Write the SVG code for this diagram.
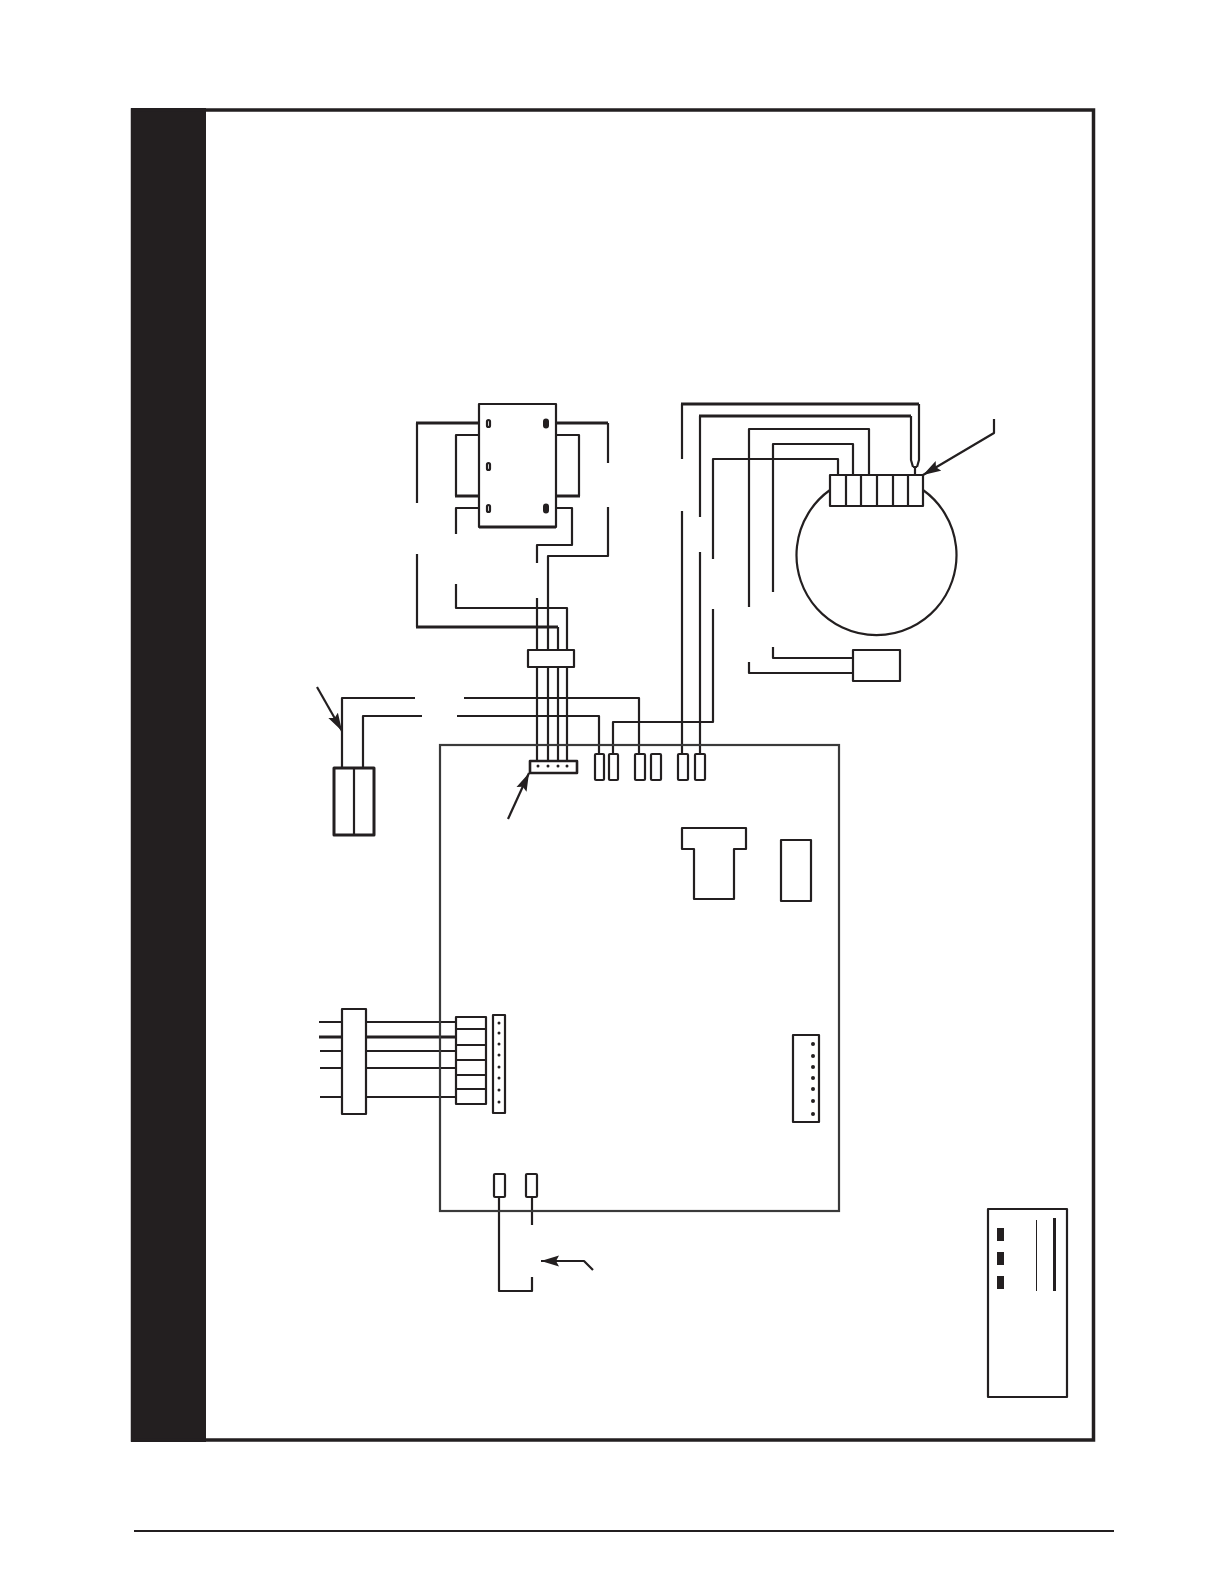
<svg xmlns="http://www.w3.org/2000/svg" width="1224" height="1584" viewBox="0 0 1224 1584">
<style>
.w{fill:none;stroke:#231f20;stroke-width:2.2;stroke-linejoin:round}
.t{fill:none;stroke:#231f20;stroke-width:3;stroke-linejoin:round}
.b{fill:#fff;stroke:#231f20;stroke-width:2.2;stroke-linejoin:round}
.k{fill:#231f20}
</style>
<defs>
<marker id="ah" markerUnits="userSpaceOnUse" markerWidth="20" markerHeight="12" refX="18" refY="6" orient="auto"><path d="M0,0.500 L18,6 L0,11.500 L3,6 Z" fill="#231f20"/></marker>
</defs>
<rect width="1224" height="1584" fill="#fff"/>
<g id="frame">
<rect x="131" y="108" width="75" height="1334" class="k"/>
<rect x="132.500" y="110" width="961" height="1330" fill="none" stroke="#231f20" stroke-width="3.500"/>
<path d="M134 1531H1114" fill="none" stroke="#231f20" stroke-width="2.200"/>
</g>
<g id="connectors">
<path class="w" d="M417 503V423"/>
<path class="t" d="M416 423H486"/>
<path class="t" d="M549 423H608"/>
<path class="w" d="M608 423V463"/>
<path class="w" d="M479 435H456V496"/>
<path class="t" d="M455 496H479"/>
<path class="w" d="M556 435H579V496"/>
<path class="t" d="M556 496H580"/>
<path class="w" d="M486 508H456V534"/>
<path class="w" d="M549 508H572V545H537V563"/>
<path class="w" d="M608 507V556H548V761"/>
<path class="w" d="M537 598V761"/>
<path class="w" d="M456 584V608H567V761"/>
<path class="w" d="M417 554V627"/>
<path class="t" d="M416 627H558"/>
<path class="w" d="M558 627V761"/>
<path class="w" d="M682 459V404"/>
<path class="t" d="M681 404H919"/>
<path class="w" d="M919 404V460L917 467"/>
<path class="w" d="M700 517V416"/>
<path class="t" d="M699 416H911"/>
<path class="w" d="M911 416V460L913 467"/>
<path class="w" d="M749 607V429H869V475"/>
<path class="w" d="M773 592V444H853V475"/>
<path class="w" d="M713 559V459H838V475"/>
<path class="w" d="M682 511V753"/>
<path class="w" d="M700 552V753"/>
<path class="w" d="M713 609V722H613V753"/>
<path class="w" d="M773 647V658H853"/>
<path class="w" d="M749 662V673H853"/>
<path class="w" d="M342 767V698H415"/>
<path class="w" d="M464 698H639V753"/>
<path class="w" d="M363 767V716H422"/>
<path class="w" d="M457 716H599V753"/>
<path class="w" d="M319 1022H455"/>
<path class="t" d="M319 1037H455"/>
<path class="w" d="M320 1051H455"/>
<path class="w" d="M320 1068H455"/>
<path class="w" d="M320 1097H455"/>
<path class="w" d="M499 1197V1291H532V1277"/>
<path class="w" d="M532 1197V1225"/>
<path class="w" d="M913 467H917M915 467V475"/>
<path class="w" d="M994 419V433L923 475" marker-end="url(#ah)"/>
<path class="w" d="M317 687L342 731" marker-end="url(#ah)"/>
<path class="w" d="M508 819L529 773" marker-end="url(#ah)"/>
<path class="w" d="M593 1270L584 1261H541" marker-end="url(#ah)"/>
</g>
<g id="transformer">
<rect x="479" y="404" width="77" height="123" class="b"/>
<path class="t" d="M479 527H556"/>
<g class="b"><rect x="487" y="420" width="3" height="7" rx="1.500"/><rect x="487" y="463" width="3" height="7" rx="1.500"/><rect x="487" y="505" width="3" height="7" rx="1.500"/><rect x="544.500" y="420" width="3" height="7" rx="1.500" style="stroke-width:3"/><rect x="544.500" y="505" width="3" height="7" rx="1.500" style="stroke-width:3"/></g>
</g>
<g id="plug"><rect x="528" y="650" width="46" height="17" class="b"/></g>
<g id="motor">
<path class="w" d="M830 490A80 80 0 1 0 923 490"/>
<rect x="830" y="475" width="93" height="31" class="b"/>
<path class="w" d="M846 475V506M861 475V506M877 475V506M893 475V506M908 475V506"/>
</g>
<g id="capacitor"><rect x="853" y="650" width="47" height="31" class="b"/></g>
<g id="switch"><rect x="334" y="768" width="40" height="67" class="t"/><path class="w" d="M354 768V835"/></g>
<g id="board">
<rect x="440" y="745" width="399" height="466" fill="none" stroke="#3a3a3a" stroke-width="2.200"/>
<rect x="530" y="761" width="47" height="12" class="b" style="stroke-width:2.600"/>
<g class="k"><circle cx="538" cy="766" r="1.500"/><circle cx="548" cy="766" r="1.500"/><circle cx="558" cy="766" r="1.500"/><circle cx="567" cy="766" r="1.500"/></g>
<g class="b"><rect x="595" y="754" width="9" height="26" rx="1"/><rect x="609" y="754" width="9" height="26" rx="1"/><rect x="635" y="754" width="10" height="26" rx="1"/><rect x="651" y="754" width="10" height="26" rx="1"/><rect x="678" y="754" width="10" height="26" rx="1"/><rect x="695" y="754" width="10" height="26" rx="1"/></g>
<path class="w" d="M682 828H746V849H734V899H694V849H682Z"/>
<rect x="781" y="840" width="30" height="61" class="w"/>
<rect x="793" y="1035" width="26" height="87" class="w"/>
<g class="k"><circle cx="813" cy="1044" r="2"/><circle cx="813" cy="1056" r="2"/><circle cx="813" cy="1067" r="2"/><circle cx="813" cy="1078" r="2"/><circle cx="813" cy="1089" r="2"/><circle cx="813" cy="1101" r="2"/><circle cx="813" cy="1114" r="2"/></g>
<rect x="494" y="1174" width="11" height="23" class="b" rx="1"/>
<rect x="526" y="1174" width="11" height="23" class="b" rx="1"/>
</g>
<g id="harness"><rect x="342" y="1009" width="24" height="105" class="b"/></g>
<g id="connector-left">
<rect x="456" y="1017" width="30" height="87" class="w"/>
<path class="w" d="M456 1029H486M456 1045H486M456 1060H486M456 1075H486M456 1089H486"/>
<rect x="493" y="1015" width="12" height="98" class="w"/>
<g class="k"><circle cx="499" cy="1023" r="1.500"/><circle cx="499" cy="1033" r="1.500"/><circle cx="499" cy="1044" r="1.500"/><circle cx="499" cy="1055" r="1.500"/><circle cx="499" cy="1067" r="1.500"/><circle cx="499" cy="1078" r="1.500"/><circle cx="499" cy="1090" r="1.500"/><circle cx="499" cy="1102" r="1.500"/></g>
</g>
<g id="legend">
<rect x="988" y="1209" width="79" height="188" class="w"/>
<rect x="997" y="1228" width="7" height="13" class="k"/>
<rect x="997" y="1252" width="7" height="13" class="k"/>
<rect x="997" y="1276" width="7" height="13" class="k"/>
<path d="M1036.500 1220V1291" stroke="#231f20" stroke-width="1"/>
<rect x="1053" y="1218" width="3" height="73" class="k"/>
</g>
</svg>
